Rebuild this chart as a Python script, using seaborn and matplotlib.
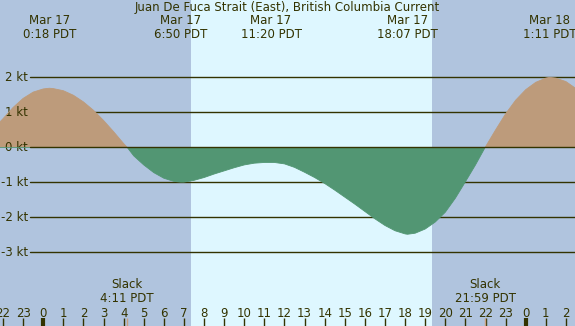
import numpy as np
import pandas as pd
import seaborn as sns
import matplotlib.pyplot as plt
import matplotlib.transforms as mtransforms

# Tidal current, hours relative to Mar 17 00:00 PDT
hours = [-2.15, -2.0, -1.5, -1.0, -0.5, 0.0, 0.3, 0.5, 1.0, 1.5, 2.0, 2.5, 3.0, 3.5, 4.0, 4.18,
         4.5, 5.0, 5.5, 6.0, 6.5, 6.83, 7.0, 7.5, 8.0, 8.5, 9.0, 9.5, 10.0, 10.5, 11.0, 11.33,
         11.5, 12.0, 12.5, 13.0, 13.5, 14.0, 14.5, 15.0, 15.5, 16.0, 16.5, 17.0, 17.5, 18.0,
         18.12, 18.5, 19.0, 19.5, 20.0, 20.5, 21.0, 21.5, 21.98, 22.5, 23.0, 23.5, 24.0, 24.5,
         25.0, 25.18, 25.5, 26.0, 26.45]
knots = [0.73, 0.82, 1.14, 1.40, 1.58, 1.67, 1.69, 1.68, 1.62, 1.49, 1.30, 1.06, 0.77, 0.45, 0.11, 0.0,
         -0.24, -0.50, -0.72, -0.88, -0.97, -0.99, -0.99, -0.94, -0.86, -0.76, -0.67, -0.58, -0.50, -0.45, -0.43, -0.43,
         -0.43, -0.47, -0.57, -0.71, -0.86, -1.03, -1.22, -1.42, -1.62, -1.83, -2.04, -2.23, -2.38, -2.47,
         -2.48, -2.45, -2.33, -2.13, -1.85, -1.45, -0.98, -0.50, 0.0, 0.50, 0.96, 1.35, 1.65, 1.86,
         1.98, 2.0, 1.98, 1.88, 1.70]

title = "Juan De Fuca Strait (East), British Columbia Current"
event_hours = [0.3, 6.83, 11.33, 18.12, 25.18]
event_labels = ["Mar 17\n0:18 PDT", "Mar 17\n6:50 PDT", "Mar 17\n11:20 PDT",
                "Mar 17\n18:07 PDT", "Mar 18\n1:11 PDT"]
slack_hours = [4.18, 21.98]
slack_labels = ["Slack\n4:11 PDT", "Slack\n21:59 PDT"]
daylight = [7.35, 19.33]
grid_kt = [-3, -2, -1, 0, 1, 2]
tick_hours = list(range(-2, 27))
tick_labels = [str(h % 24) for h in tick_hours]

night_col = "#b0c4de"
day_col = "#def7ff"
flood_col = "#bd9b7b"
ebb_col = "#529673"
ink = "#333300"
fs = 8.5

sns.set_theme(style="white")
plt.rcParams['font.family'] = ['DejaVu Sans']

df = pd.DataFrame({"hour": hours, "kt": knots})
df["flood"] = df["kt"].clip(lower=0)
df["ebb"] = df["kt"].clip(upper=0)

fig = plt.figure(figsize=(5.75, 3.26), dpi=100)
ax = fig.add_axes([0, 0, 1, 1])
ax.set_facecolor(night_col)
ax.set_xlim(-2.15, 26.45)
ax.set_ylim(-5.1, 4.21)
for s in ax.spines.values():
    s.set_visible(False)

ax.axvspan(daylight[0], daylight[1], color=day_col, zorder=0, lw=0)

# grid lines with kt labels
trans_y = mtransforms.blended_transform_factory(ax.transAxes, ax.transData)
for k in grid_kt:
    ax.axhline(k, xmin=0.052, xmax=1, color=ink, lw=1, zorder=1 if k != 0 else 4)
    ax.text(0.049, k, f"{k} kt", transform=trans_y, ha="right", va="center",
            fontsize=fs, color=ink)

ax.fill_between(df["hour"], df["flood"], 0, color=flood_col, lw=0, zorder=2)
ax.fill_between(df["hour"], df["ebb"], 0, color=ebb_col, lw=0, zorder=2)
sns.lineplot(data=df, x="hour", y="flood", color=flood_col, lw=0.6, ax=ax, zorder=3)
sns.lineplot(data=df, x="hour", y="ebb", color=ebb_col, lw=0.6, ax=ax, zorder=3)

# hour ticks along the bottom
ax.set_xticks(tick_hours)
ax.set_xticklabels(tick_labels)
ax.tick_params(axis="x", which="major", direction="in", length=6, width=1, color=ink,
               labelsize=fs, labelcolor=ink, pad=-14.0, bottom=True)
for t, h in zip(ax.xaxis.get_major_ticks(), tick_hours):
    if h % 24 == 0:
        t.tick1line.set_markeredgewidth(3)
ax.set_xticks(slack_hours, minor=True)
ax.tick_params(axis="x", which="minor", direction="in", length=6, width=1,
               color="#c8a080", bottom=True)
ax.set_yticks([])
ax.set_xlabel("")
ax.set_ylabel("")

# top annotations
trans_x = mtransforms.blended_transform_factory(ax.transData, ax.transAxes)
for h, lab in zip(event_hours, event_labels):
    ax.text(h, 1 - 14 / 326, lab, transform=trans_x, ha="center", va="top",
            fontsize=fs, color=ink, linespacing=1.05)
for h, lab in zip(slack_hours, slack_labels):
    ax.text(h, 21 / 326, lab, transform=trans_x, ha="center", va="bottom",
            fontsize=fs, color=ink, linespacing=1.05)
fig.text(0.5, 1 - 7.5 / 326, title, ha="center", va="center", fontsize=fs, color=ink)

fig.savefig("out.png", dpi=100)
